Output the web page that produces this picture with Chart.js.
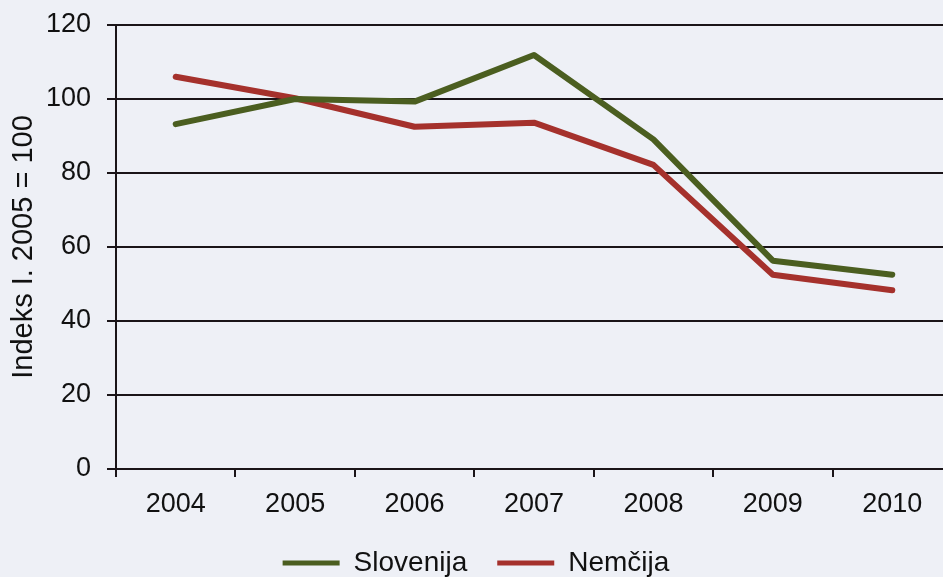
<!DOCTYPE html>
<html>
<head>
<meta charset="utf-8">
<script src="https://cdn.jsdelivr.net/npm/chart.js@4.4.1/dist/chart.umd.min.js"></script>
<style>
  html, body { margin: 0; padding: 0; overflow: hidden; background: #eef0f6; }
  #wrap { position: relative; width: 954px; height: 587px; }
</style>
</head>
<body>
<div id="wrap"><canvas id="c" width="954" height="587"></canvas></div>
<script>
const years = ['2004', '2005', '2006', '2007', '2008', '2009', '2010'];
const slovenija = [93.2, 100, 99.3, 111.9, 89.1, 56.3, 52.5];
const nemcija = [106.0, 100.2, 92.5, 93.6, 82.2, 52.5, 48.3];
const yTicks = [0, 20, 40, 60, 80, 100, 120];
const seriesNames = ['Slovenija', 'Nemčija'];
const yTitle = 'Indeks I. 2005 = 100';

const GREEN = '#4b5e20';
const RED = '#a5312c';
const FONT = "'Liberation Sans', Arial, sans-serif";

new Chart(document.getElementById('c'), {
  type: 'line',
  data: {
    labels: years,
    datasets: [
      { label: seriesNames[0], data: slovenija, borderColor: GREEN, backgroundColor: GREEN, borderWidth: 6, pointRadius: 0, tension: 0, borderJoinStyle: 'round', borderCapStyle: 'round' },
      { label: seriesNames[1], data: nemcija, borderColor: RED, backgroundColor: RED, borderWidth: 6, pointRadius: 0, tension: 0, borderJoinStyle: 'round', borderCapStyle: 'round' }
    ]
  },
  options: {
    responsive: false,
    animation: false,
    layout: { padding: { top: 25, right: 2, left: 0, bottom: 0 } },
    plugins: {
      legend: {
        position: 'bottom',
        labels: {
          font: { family: FONT, size: 28 },
          color: '#111',
          boxWidth: 57,
          boxHeight: 5,
          padding: 30,
          generateLabels: (chart) => chart.data.datasets.map((ds, i) => ({
            text: ds.label, fillStyle: ds.borderColor, strokeStyle: ds.borderColor,
            lineWidth: 0, datasetIndex: i, hidden: false, fontColor: '#111'
          }))
        }
      },
      tooltip: { enabled: false }
    },
    scales: {
      x: {
        type: 'category',
        offset: true,
        grid: { drawOnChartArea: false, offset: true, tickLength: 8, color: '#1a1418', lineWidth: 2 },
        border: { color: '#1a1418', width: 2 },
        ticks: { font: { family: FONT, size: 27 }, color: '#111', padding: 11, maxRotation: 0 },
        afterFit: (s) => { s.height = 50; s.paddingLeft = 0; s.paddingRight = 0; }
      },
      y: {
        min: 0, max: 120,
        afterBuildTicks: (s) => { s.ticks = yTicks.map(v => ({ value: v })); },
        grid: { color: '#1a1418', lineWidth: 2, tickLength: 9 },
        border: { color: '#1a1418', width: 2 },
        ticks: { font: { family: FONT, size: 27 }, color: '#111', padding: 16 },
        title: { display: true, text: yTitle, font: { family: FONT, size: 29 }, color: '#111', padding: { top: 7, bottom: 0 } },
        afterFit: (s) => { s.width = 116; s.paddingTop = 0; s.paddingBottom = 0; }
      }
    }
  }
});
</script>
</body>
</html>
